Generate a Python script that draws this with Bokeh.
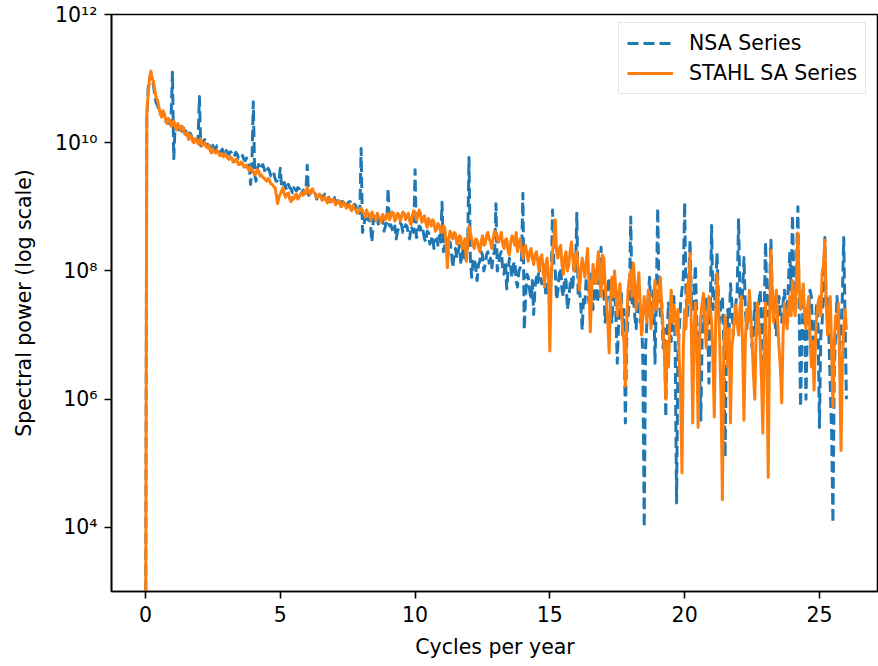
from bokeh.plotting import figure
from bokeh.models import (Range1d, FixedTicker, CustomJSTickFormatter, Legend,
                          LegendItem)
from bokeh.embed import file_html
from bokeh.resources import INLINE

# Frequency grid (cycles per year), 0.00 .. 26.00 in steps of 0.05
cycles_per_year = [round(i * 0.05, 2) for i in range(521)]

# Spectral power, as log10 values (one row per cycle/year)
nsa_log10_power = [
    1.0, 10.4, 10.85, 11.0, 11.08, 10.95, 10.9, 10.7, 10.62, 10.58, 10.5, 10.45, 10.42, 10.48, 10.4, 10.33, 10.35, 10.3, 10.32, 10.38,
    11.1, 9.75, 10.28, 10.22, 10.3, 10.2, 10.25, 10.18, 10.25, 10.15, 10.18, 10.12, 10.1, 10.15, 10.12, 10.04, 10.05, 10.1, 10.08, 10.02,
    10.72, 9.95, 9.98, 10.02, 10.05, 9.96, 9.98, 9.92, 9.95, 9.9, 9.96, 9.88, 9.9, 9.95, 9.93, 9.87, 9.86, 9.9, 9.84, 9.8,
    9.88, 9.84, 9.82, 9.86, 9.84, 9.78, 9.8, 9.85, 9.82, 9.76, 9.78, 9.82, 9.8, 9.74, 9.72, 9.76, 9.7, 9.62, 9.35, 9.7,
    10.64, 9.5, 9.4, 9.6, 9.66, 9.58, 9.62, 9.66, 9.6, 9.52, 9.55, 9.6, 9.56, 9.48, 9.5, 9.54, 9.45, 9.4, 9.4, 9.38,
    9.6, 9.3, 9.35, 9.38, 9.3, 9.26, 9.35, 9.3, 9.28, 9.22, 9.3, 9.27, 9.25, 9.3, 9.28, 9.2, 9.22, 9.26, 9.2, 9.24,
    9.65, 9.18, 9.2, 9.24, 9.25, 9.17, 9.2, 9.12, 9.16, 9.22, 9.2, 9.12, 9.15, 9.2, 9.18, 9.1, 9.15, 9.08, 9.1, 9.14,
    9.15, 9.05, 9.1, 9.14, 9.12, 9.02, 9.06, 9.1, 9.1, 9.0, 9.05, 9.08, 9.08, 8.98, 9.0, 9.04, 9.02, 8.94, 8.96, 8.9,
    9.91, 8.6, 8.7, 8.85, 8.9, 8.8, 8.85, 8.7, 8.45, 8.78, 8.85, 8.75, 8.82, 8.7, 8.75, 8.82, 8.8, 8.62, 8.7, 8.76,
    9.29, 8.7, 8.72, 8.65, 8.6, 8.7, 8.5, 8.62, 8.68, 8.75, 8.72, 8.6, 8.62, 8.72, 8.7, 8.58, 8.5, 8.7, 8.65, 8.6,
    9.58, 8.52, 8.55, 8.7, 8.68, 8.58, 8.62, 8.5, 8.45, 8.62, 8.6, 8.42, 8.48, 8.55, 8.35, 8.45, 8.5, 8.4, 8.55, 8.45,
    9.07, 8.3, 8.4, 8.5, 8.2, 8.35, 8.45, 8.3, 8.05, 8.28, 8.35, 8.2, 8.3, 8.4, 8.1, 8.25, 8.38, 8.2, 8.5, 8.35,
    9.77, 8.2, 7.9, 8.15, 8.2, 8.05, 7.85, 8.1, 8.15, 8.3, 8.25, 8.0, 8.1, 8.25, 8.3, 8.12, 8.2, 8.05, 8.25, 8.3,
    9.05, 8.0, 8.1, 8.25, 8.3, 8.05, 7.95, 8.15, 7.72, 8.0, 8.2, 8.05, 7.9, 8.1, 8.15, 7.85, 7.75, 8.0, 8.05, 8.2,
    9.21, 7.08, 7.6, 7.95, 7.9, 7.7, 7.55, 7.85, 7.32, 7.75, 7.9, 7.8, 8.1, 7.9, 7.8, 7.95, 8.0, 7.6, 7.7, 7.85,
    7.6, 7.9, 8.95, 8.1, 8.0, 7.55, 7.7, 7.95, 8.05, 7.7, 7.6, 7.9, 7.85, 7.4, 7.55, 7.8, 7.9, 7.7, 8.2, 7.95,
    8.9, 7.6, 7.7, 7.45, 7.08, 7.6, 7.5, 7.9, 7.8, 7.5, 7.95, 7.7, 7.4, 7.75, 8.0, 7.5, 7.6, 7.9, 8.37, 7.8,
    7.7, 7.2, 7.4, 7.75, 7.9, 7.5, 7.2, 7.6, 7.7, 7.3, 6.56, 7.2, 7.5, 7.7, 7.0, 7.4, 5.63, 6.9, 7.3, 7.6,
    8.84, 7.5, 7.6, 7.3, 7.1, 7.6, 7.8, 7.2, 7.3, 6.6, 4.0, 6.8, 7.2, 7.6, 7.9, 7.3, 7.4, 7.7, 6.56, 7.6,
    8.98, 7.6, 7.3, 7.5, 6.8, 7.1, 5.72, 7.0, 7.5, 7.2, 6.9, 7.4, 7.6, 6.8, 4.38, 6.7, 7.1, 7.5, 7.7, 7.9,
    9.07, 7.6, 7.3, 7.8, 8.48, 7.5, 7.4, 7.7, 8.09, 7.2, 7.0, 6.6, 5.67, 7.0, 7.3, 7.1, 7.6, 7.3, 6.25, 7.4,
    8.71, 7.4, 7.5, 7.7, 8.28, 7.6, 7.2, 7.5, 7.6, 6.9, 5.1, 6.8, 7.4, 7.1, 7.8, 7.5, 7.0, 7.3, 7.5, 7.7,
    8.82, 7.6, 7.4, 7.7, 8.21, 7.4, 7.1, 7.3, 7.6, 7.2, 6.8, 7.1, 7.5, 7.0, 7.2, 7.5, 7.7, 7.2, 6.6, 7.4,
    8.45, 7.6, 7.3, 7.7, 8.48, 7.6, 7.5, 7.2, 7.0, 7.4, 7.6, 7.3, 7.2, 7.5, 7.7, 7.3, 7.4, 7.8, 8.3, 7.7,
    8.87, 7.8, 7.5, 8.1, 9.0, 7.3, 5.88, 7.0, 7.5, 7.2, 6.0, 7.1, 7.4, 7.7, 7.6, 7.0, 6.4, 7.2, 7.5, 7.1,
    5.56, 7.0, 7.2, 7.8, 8.52, 7.4, 7.6, 7.0, 6.2, 5.5, 4.07, 6.5, 7.0, 7.6, 7.3, 6.8, 7.1, 7.6, 8.52, 7.2,
    6.0,
]

stahl_sa_log10_power = [
    1.0, 10.45, 10.75, 11.0, 11.12, 11.0, 10.95, 10.8, 10.7, 10.66, 10.55, 10.45, 10.4, 10.5, 10.45, 10.36, 10.3, 10.38, 10.35, 10.26,
    10.28, 10.34, 10.25, 10.2, 10.3, 10.24, 10.2, 10.26, 10.22, 10.14, 10.12, 10.16, 10.05, 10.12, 10.1, 10.02, 10.0, 10.06, 10.05, 9.98,
    10.02, 10.06, 9.95, 9.98, 10.0, 9.94, 9.92, 9.96, 9.88, 9.84, 9.9, 9.86, 9.84, 9.88, 9.86, 9.8, 9.8, 9.83, 9.78, 9.82,
    9.8, 9.76, 9.74, 9.78, 9.76, 9.7, 9.7, 9.74, 9.72, 9.66, 9.66, 9.7, 9.68, 9.62, 9.62, 9.65, 9.6, 9.56, 9.62, 9.58,
    9.55, 9.5, 9.52, 9.58, 9.56, 9.48, 9.5, 9.46, 9.45, 9.42, 9.4, 9.44, 9.42, 9.36, 9.35, 9.32, 9.3, 9.2, 9.05, 9.15,
    9.2, 9.25, 9.3, 9.2, 9.15, 9.2, 9.22, 9.12, 9.08, 9.15, 9.12, 9.18, 9.2, 9.12, 9.15, 9.2, 9.22, 9.18, 9.25, 9.22,
    9.3, 9.24, 9.2, 9.26, 9.28, 9.22, 9.2, 9.14, 9.15, 9.2, 9.18, 9.1, 9.12, 9.16, 9.1, 9.06, 9.14, 9.1, 9.08, 9.12,
    9.1, 9.03, 9.05, 9.1, 9.08, 9.0, 9.02, 9.07, 9.05, 8.98, 9.0, 9.04, 8.98, 8.94, 9.02, 8.98, 8.95, 8.9, 8.92, 8.96,
    8.98, 8.92, 8.9, 8.84, 8.95, 8.9, 8.88, 8.8, 8.92, 8.86, 8.85, 8.78, 8.9, 8.85, 8.82, 8.76, 8.88, 8.84, 8.8, 8.86,
    8.9, 8.8, 8.85, 8.92, 8.9, 8.78, 8.82, 8.9, 8.88, 8.78, 8.85, 8.92, 8.9, 8.8, 8.84, 8.9, 8.78, 8.72, 8.86, 8.94,
    8.92, 8.8, 8.85, 8.95, 8.9, 8.76, 8.8, 8.86, 8.75, 8.68, 8.82, 8.76, 8.7, 8.8, 8.76, 8.62, 8.65, 8.74, 8.7, 8.62,
    8.6, 8.7, 8.68, 8.45, 8.05, 8.5, 8.62, 8.55, 8.5, 8.6, 8.58, 8.42, 8.45, 8.55, 8.52, 8.35, 8.4, 8.5, 8.15, 8.45,
    8.7, 8.6, 8.5, 8.4, 8.35, 8.5, 8.48, 8.38, 8.3, 8.45, 8.55, 8.4, 8.42, 8.55, 8.6, 8.5, 8.45, 8.35, 8.52, 8.62,
    8.6, 8.5, 8.45, 8.55, 8.6, 8.42, 8.35, 8.48, 8.5, 8.3, 8.25, 8.45, 8.55, 8.48, 8.4, 8.6, 8.3, 8.4, 8.5, 8.35,
    8.2, 8.35, 8.4, 8.25, 8.15, 8.3, 8.35, 8.2, 8.1, 8.25, 8.3, 8.15, 8.0, 8.2, 8.25, 8.05, 7.75, 8.1, 8.2, 7.9,
    6.75, 7.9, 8.3, 8.5, 8.8, 8.3, 8.2, 8.35, 8.4, 8.1, 7.95, 8.2, 8.3, 8.0, 8.1, 8.3, 8.45, 8.2, 8.0, 8.25,
    8.3, 8.0, 7.7, 8.0, 8.2, 8.05, 7.9, 8.15, 8.35, 7.8, 7.05, 7.7, 8.1, 7.95, 7.8, 8.05, 8.3, 7.9, 7.6, 8.25,
    8.2, 7.8, 7.5, 7.2, 6.72, 7.5, 7.9, 7.6, 8.0, 7.7, 7.3, 7.6, 7.8, 7.4, 7.1, 6.9, 6.2, 7.2, 7.7, 7.9,
    8.0, 7.6, 8.12, 7.8, 7.4, 7.7, 7.97, 7.5, 7.0, 7.3, 7.6, 7.4, 7.2, 7.7, 7.6, 7.1, 7.3, 7.5, 7.85, 7.4,
    7.5, 7.7, 7.9, 7.4, 7.1, 6.7, 6.0, 6.9, 6.5, 7.2, 7.7, 7.2, 7.47, 7.3, 7.0, 7.4, 6.6, 6.1, 4.85, 6.8,
    7.4, 7.1, 7.8, 7.5, 8.28, 7.0, 5.63, 7.1, 7.5, 6.8, 5.56, 6.9, 7.3, 7.5, 7.65, 7.2, 6.8, 7.3, 7.6, 7.4,
    7.2, 6.6, 5.72, 7.2, 7.96, 7.5, 6.9, 6.0, 4.43, 6.7, 7.3, 7.0, 6.5, 7.1, 5.63, 6.8, 7.0, 7.3, 7.47, 7.2,
    7.0, 7.4, 7.6, 6.8, 5.67, 6.9, 7.4, 7.2, 7.7, 7.3, 6.9, 6.4, 6.0, 7.0, 7.5, 7.2, 6.9, 6.3, 5.47, 6.8,
    7.5, 6.5, 4.78, 7.2, 8.32, 7.6, 7.2, 7.5, 7.7, 7.2, 6.8, 6.5, 5.94, 7.0, 7.5, 7.3, 7.1, 7.4, 7.6, 7.3,
    7.85, 7.5, 7.3, 7.9, 8.59, 7.7, 7.4, 7.6, 7.8, 7.3, 7.1, 7.4, 7.6, 7.0, 6.5, 6.9, 6.14, 6.9, 7.3, 7.5,
    7.6, 7.3, 7.97, 8.1, 8.48, 7.5, 7.0, 7.3, 7.6, 6.8, 5.88, 6.9, 7.3, 7.1, 7.5, 6.5, 5.2, 6.6, 7.1, 7.4,
    7.08,
]

x_tick_values = [0, 5, 10, 15, 20, 25]
y_tick_values = [1e4, 1e6, 1e8, 1e10, 1e12]

nsa_power = [10 ** v for v in nsa_log10_power]
stahl_sa_power = [10 ** v for v in stahl_sa_log10_power]

FONT = "DejaVu Sans"
FS = "20.5px"

p = figure(width=878, height=666, y_axis_type="log",
           x_range=Range1d(-1.26, 27.19), y_range=Range1d(1e3, 1e12),
           output_backend="svg", toolbar_location=None,
           min_border_left=111, min_border_right=0,
           min_border_top=14, min_border_bottom=75)
p.background_fill_color = "white"
p.border_fill_color = "white"
p.outline_line_color = "black"
p.outline_line_width = 1.6
p.grid.visible = False

r_nsa = p.line(cycles_per_year, nsa_power, line_color="#1f77b4",
               line_width=3, line_dash="11 5", line_join="round")
r_sa = p.line(cycles_per_year, stahl_sa_power, line_color="#ff7f0e",
              line_width=3, line_join="round")

p.xaxis.ticker = FixedTicker(ticks=x_tick_values)
p.yaxis.ticker = FixedTicker(ticks=y_tick_values)
p.yaxis.formatter = CustomJSTickFormatter(code="""
const sup = {'0':'\u2070','1':'\u00b9','2':'\u00b2','3':'\u00b3','4':'\u2074',
             '5':'\u2075','6':'\u2076','7':'\u2077','8':'\u2078','9':'\u2079','-':'\u207b'};
const e = Math.round(Math.log10(tick));
return '10' + String(e).split('').map(c => sup[c]).join('');
""")

for ax in (p.xaxis, p.yaxis):
    ax.axis_line_color = "black"
    ax.axis_line_width = 1.6
    ax.major_tick_line_color = "black"
    ax.major_tick_line_width = 1.6
    ax.major_tick_out = 7
    ax.major_tick_in = 0
    ax.minor_tick_line_color = None
    ax.major_label_text_font = FONT
    ax.major_label_text_font_size = FS
    ax.major_label_text_color = "black"
    ax.major_label_standoff = 7
    ax.axis_label_text_font = FONT
    ax.axis_label_text_font_size = FS
    ax.axis_label_text_font_style = "normal"
    ax.axis_label_text_color = "black"

p.xaxis.axis_label = "Cycles per year"
p.yaxis.axis_label = "Spectral power (log scale)"
p.xaxis.axis_label_standoff = 10
p.yaxis.axis_label_standoff = 16

legend = Legend(items=[LegendItem(label="NSA Series", renderers=[r_nsa]),
                       LegendItem(label="STAHL SA Series", renderers=[r_sa])],
                location=(507, 497), margin=0, padding=8, spacing=6,
                glyph_width=46, glyph_height=24, label_height=24,
                label_standoff=16, label_text_font=FONT,
                label_text_font_size=FS, label_text_color="black",
                border_line_color="#cccccc", border_line_width=1.5,
                background_fill_color="white", background_fill_alpha=1.0)
p.add_layout(legend)

open("out.html", "w").write(file_html(p, INLINE, title="Spectral power"))
